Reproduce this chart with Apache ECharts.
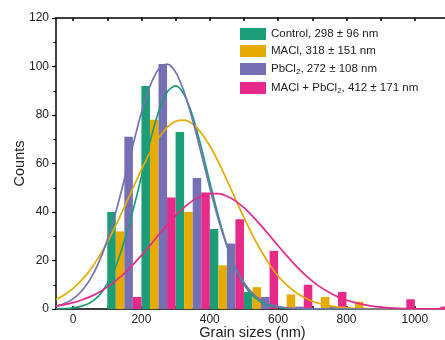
<!DOCTYPE html>
<html><head><meta charset="utf-8">
<script src="https://cdn.jsdelivr.net/npm/echarts@6/dist/echarts.min.js"></script>
<style>html,body{margin:0;padding:0;background:#fff}#c{width:445px;height:340px}</style>
</head><body><div id="c"></div>
<script>
// Histogram bins (nm): each bin of 100 nm holds four 25-nm bars
const binStarts = [100, 200, 300, 400, 500, 600, 700, 800, 900, 1000];
const controlCounts = [40, 92, 73, 33, 7, 0, 0, 0, 0, 0];
const maclCounts    = [32, 78, 40, 18, 9, 6, 5, 3, 0, 0];
const pbcl2Counts   = [71, 101, 54, 27, 5, 1, 1, 0, 0, 0];
const mixCounts     = [5, 46, 48, 37, 24, 10, 7, 0, 4, 1];

// Fitted distribution curves
const fitX = [-50,-25,0,25,50,75,100,125,150,175,200,225,250,275,300,325,350,375,400,425,450,475,500,525,550,575,600,625,650,675,700,725,750,775,800,825,850,875,900,925,950,975,1000,1025,1050,1075,1100];
const controlFit = [0.1,0.2,0.5,1.2,2.6,5.4,10.3,17.6,28.0,40.5,54.6,68.9,81.2,89.4,92.0,88.4,79.5,66.7,52.3,38.4,26.3,16.8,10.1,5.6,2.9,1.4,0.7,0.3,0.1,0.05,0,0,0,0,0,0,0,0,0,0,0,0,0,0,0,0,0];
const maclFit = [4.0,5.9,8.5,11.9,16.1,21.4,27.5,34.5,42.0,49.8,57.5,64.5,70.5,74.9,77.4,77.9,76.3,72.6,67.3,60.7,53.2,45.4,37.7,30.5,24.0,18.3,13.6,9.9,7.0,4.8,3.2,2.1,1.3,0.8,0.5,0.3,0.2,0.1,0.05,0,0,0,0,0,0,0,0];
const pbcl2Fit = [1.2,2.3,4.2,7.4,12.2,19.1,28.4,40.0,53.4,67.5,80.9,91.9,98.9,101.0,97.7,89.5,77.8,64.1,50.0,37.0,26.0,17.3,10.9,6.5,3.7,2.0,1.0,0.5,0.2,0.1,0.04,0,0,0,0,0,0,0,0,0,0,0,0,0,0,0,0];
const mixFit = [1.2,1.8,2.6,3.7,5.1,6.8,9.0,11.7,14.7,18.3,22.1,26.2,30.5,34.6,38.5,41.9,44.7,46.6,47.6,47.6,46.5,44.6,41.8,38.3,34.4,30.3,26.1,22.0,18.1,14.6,11.5,8.9,6.8,5.0,3.6,2.6,1.8,1.2,0.8,0.5,0.3,0.2,0.13,0.08,0.05,0.03,0.02];

const seriesNames = ['Control, 298 ± 96 nm', 'MACl, 318 ± 151 nm', 'PbCl2, 272 ± 108 nm', 'MACl + PbCl2, 412 ± 171 nm'];
const xLabelValues = [0, 200, 400, 600, 800, 1000];
const xTickValues = [0, 100, 200, 300, 400, 500, 600, 700, 800, 900, 1000, 1100];

const colors = ['#1b9e77', '#e6ab02', '#7570b3', '#e7298a'];
const FONT = '"Liberation Sans", Arial, sans-serif';
const SUB = 25;

function barSeries(name, counts, k, color) {
  return {
    type: 'custom', name: name, z: 2,
    itemStyle: { color: color },
    data: binStarts.map((b, i) => [b + k * SUB, counts[i]]),
    encode: { x: 0, y: 1 },
    renderItem: function (params, api) {
      const x0 = api.value(0), v = api.value(1);
      const p0 = api.coord([x0, v]);
      const p1 = api.coord([x0 + SUB, 0]);
      return { type: 'rect', shape: { x: p0[0], y: p0[1], width: p1[0] - p0[0], height: p1[1] - p0[1] },
               style: { fill: api.visual('color') } };
    }
  };
}
function fitSeries(name, ys, color) {
  return {
    type: 'line', name: name, z: 5, silent: true, smooth: 0.3, showSymbol: false,
    data: fitX.map((x, i) => [x, ys[i]]),
    lineStyle: { color: color, width: 1.7 }, itemStyle: { color: color }
  };
}

const chart = echarts.init(document.getElementById('c'), null, { renderer: 'canvas' });
chart.setOption({
  animation: false,
  backgroundColor: '#fff',
  textStyle: { fontFamily: FONT },
  grid: { left: 56, top: 18, width: 393, height: 291, containLabel: false, outerBoundsMode: 'none' },
  legend: {
    orient: 'vertical', left: 235, top: 23, icon: 'rect', itemWidth: 26, itemHeight: 12, itemGap: 5,
    selectedMode: false, data: seriesNames,
    formatter: function (n) { return '{a|' + n.replace(/Cl2/g, 'Cl}{s|2}{a|') + '}'; },
    textStyle: {
      color: '#222', fontSize: 11.5, fontFamily: FONT, padding: [0, 0, 0, 0],
      rich: {
        a: { fontSize: 11.5, fontFamily: FONT, color: '#222', lineHeight: 13 },
        s: { fontSize: 8, fontFamily: FONT, color: '#222', lineHeight: 8, padding: [6, 0, 0, 0] }
      }
    }
  },
  xAxis: [{
    type: 'value', min: -50, max: 1100, position: 'bottom',
    name: 'Grain sizes (nm)', nameLocation: 'middle', nameGap: 16, nameMoveOverlap: false,
    nameTextStyle: { fontSize: 14.5, color: '#222', fontFamily: FONT, verticalAlign: 'top' },
    axisLine: { onZero: false, lineStyle: { color: '#000', width: 1.5 } },
    axisTick: { inside: true, length: 3, customValues: xTickValues, lineStyle: { color: '#000', width: 1.5 } },
    axisLabel: { customValues: xLabelValues, margin: 5, fontSize: 12, color: '#222', fontFamily: FONT,
                 formatter: function (v) { return String(v); } },
    splitLine: { show: false }
  }, {
    type: 'value', min: -50, max: 1100, position: 'top',
    axisLine: { onZero: false, lineStyle: { color: '#000', width: 1.5 } },
    axisTick: { inside: true, length: 3, customValues: xTickValues, lineStyle: { color: '#000', width: 1.5 } },
    axisLabel: { show: false }, splitLine: { show: false }
  }],
  yAxis: {
    type: 'value', min: 0, max: 120, interval: 20, position: 'left',
    name: 'Counts', nameLocation: 'middle', nameGap: 29, nameRotate: 90, nameMoveOverlap: false,
    nameTextStyle: { fontSize: 14.5, color: '#222', fontFamily: FONT },
    axisLine: { show: true, onZero: false, lineStyle: { color: '#000', width: 1.5 } },
    axisTick: { show: true, inside: false, length: 4, lineStyle: { color: '#000', width: 1.2 } },
    minorTick: { show: true, splitNumber: 2, length: 2.5, lineStyle: { color: '#000', width: 1 } },
    axisLabel: { margin: 7, fontSize: 12, color: '#222', fontFamily: FONT },
    splitLine: { show: false }
  },
  series: [
    barSeries(seriesNames[0], controlCounts, 0, colors[0]),
    barSeries(seriesNames[1], maclCounts, 1, colors[1]),
    barSeries(seriesNames[2], pbcl2Counts, 2, colors[2]),
    barSeries(seriesNames[3], mixCounts, 3, colors[3]),
    fitSeries('Control fit', controlFit, colors[0]),
    fitSeries('MACl fit', maclFit, colors[1]),
    fitSeries('PbCl2 fit', pbcl2Fit, colors[2]),
    fitSeries('MACl + PbCl2 fit', mixFit, colors[3])
  ]
});
</script></body></html>
